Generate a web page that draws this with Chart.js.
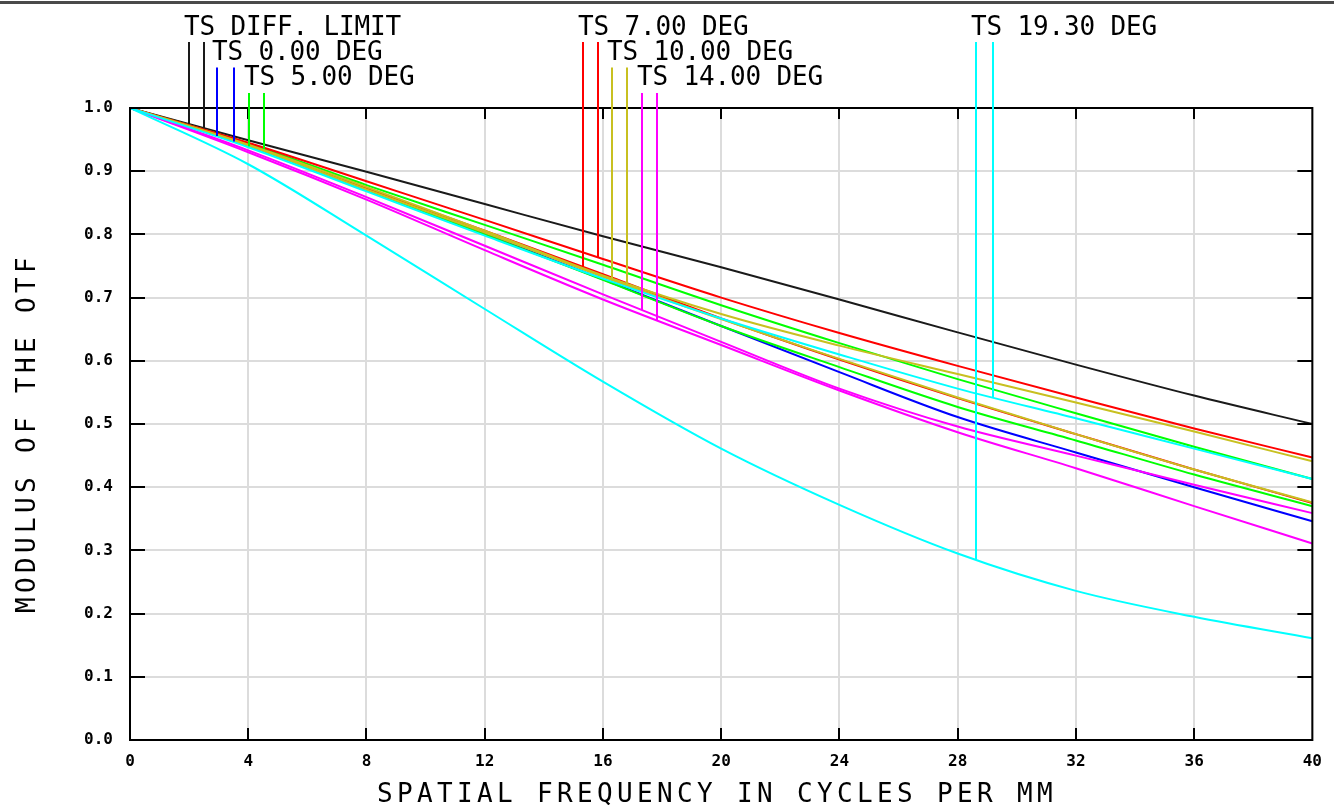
<!DOCTYPE html>
<html>
<head>
<meta charset="utf-8">
<script src="https://cdn.jsdelivr.net/npm/chart.js@4.4.1/dist/chart.umd.min.js"></script>
<style>
  html, body { margin: 0; padding: 0; background: #fff; }
</style>
</head>
<body>
<canvas id="mtfChart" width="1334" height="805"></canvas>
<script>
// spatial frequency samples (cycles per mm)
const freq = [0, 4, 8, 12, 16, 20, 24, 28, 32, 36, 40];

// modulus of the OTF
const diffLimit = [1.000, 0.949, 0.899, 0.848, 0.797, 0.748, 0.697, 0.645, 0.594, 0.545, 0.500];
const deg0      = [1.000, 0.940, 0.872, 0.801, 0.729, 0.655, 0.582, 0.511, 0.455, 0.400, 0.346];
const deg5T     = [1.000, 0.940, 0.870, 0.800, 0.728, 0.655, 0.590, 0.527, 0.474, 0.420, 0.370];
const deg5S     = [1.000, 0.944, 0.878, 0.815, 0.752, 0.688, 0.628, 0.571, 0.517, 0.464, 0.413];
const deg7T     = [1.000, 0.942, 0.873, 0.806, 0.737, 0.667, 0.602, 0.541, 0.484, 0.428, 0.375];
const deg7S     = [1.000, 0.945, 0.884, 0.823, 0.761, 0.700, 0.644, 0.592, 0.542, 0.493, 0.447];
const deg10T    = [1.000, 0.941, 0.871, 0.803, 0.733, 0.666, 0.603, 0.542, 0.484, 0.428, 0.376];
const deg10S    = [1.000, 0.942, 0.875, 0.806, 0.735, 0.674, 0.624, 0.579, 0.534, 0.488, 0.441];
const deg14T    = [1.000, 0.933, 0.859, 0.782, 0.705, 0.630, 0.556, 0.496, 0.450, 0.404, 0.359];
const deg14S    = [1.000, 0.930, 0.855, 0.775, 0.697, 0.625, 0.553, 0.487, 0.430, 0.370, 0.311];
const deg19T    = [1.000, 0.911, 0.798, 0.682, 0.567, 0.461, 0.372, 0.295, 0.236, 0.195, 0.161];
const deg19S    = [1.000, 0.938, 0.868, 0.798, 0.730, 0.667, 0.610, 0.556, 0.509, 0.461, 0.413];

const fieldLabels = ['TS DIFF. LIMIT', 'TS 0.00 DEG', 'TS 5.00 DEG', 'TS 7.00 DEG',
                     'TS 10.00 DEG', 'TS 14.00 DEG', 'TS 19.30 DEG'];
// frequency where the T and S leader lines of each label meet their curve
const markerT = [2.00, 2.96, 4.03, 15.33, 16.32, 17.32, 28.62];
const markerS = [2.52, 3.53, 4.53, 15.83, 16.82, 17.82, 29.18];

const xTitle = 'SPATIAL FREQUENCY IN CYCLES PER MM';
const yTitle = 'MODULUS OF THE OTF';

const fieldColors = ['#1a1a1a', '#0000ff', '#00ff00', '#ff0000', '#c8c020', '#ff00ff', '#00ffff'];
const curvesT = [diffLimit, deg0, deg5T, deg7T, deg10T, deg14T, deg19T];
const curvesS = [diffLimit, deg0, deg5S, deg7S, deg10S, deg14S, deg19S];

function toPoints(vals) {
    return vals.map((v, i) => ({ x: freq[i], y: v }));
}

// value of a curve at f, used only to end the leader lines on the curve
function valueAt(vals, f) {
    for (let i = 1; i < freq.length; i++) {
        if (f <= freq[i]) {
            const t = (f - freq[i - 1]) / (freq[i] - freq[i - 1]);
            return vals[i - 1] + t * (vals[i] - vals[i - 1]);
        }
    }
    return vals[vals.length - 1];
}

const datasets = [];
fieldLabels.forEach((lab, i) => {
    datasets.push({ label: lab + ' T', data: toPoints(curvesT[i]), borderColor: fieldColors[i] });
    if (curvesS[i] !== curvesT[i]) {
        datasets.push({ label: lab + ' S', data: toPoints(curvesS[i]), borderColor: fieldColors[i] });
    }
});
// later fields on top, like the original plot
datasets.forEach((d, i) => { d.order = -i; });

function spacedText(ctx, str, x, y, advance) {
    for (let i = 0; i < str.length; i++) ctx.fillText(str[i], x + i * advance, y);
}

const decorPlugin = {
    id: 'decor',
    beforeDraw(chart) {
        const ctx = chart.ctx;
        ctx.save();
        ctx.fillStyle = '#fff';
        ctx.fillRect(0, 0, chart.width, chart.height);
        ctx.fillStyle = '#4a4a4a';
        ctx.fillRect(0, 1, chart.width, 3);
        ctx.restore();
    },
    afterDatasetsDraw(chart) {
        const { ctx, chartArea: a, scales: { x, y } } = chart;
        ctx.save();
        ctx.strokeStyle = '#000';
        ctx.lineWidth = 2;
        ctx.beginPath();
        x.ticks.forEach(t => {
            if (t.value <= x.min || t.value >= x.max) return;
            const px = Math.round(x.getPixelForValue(t.value));
            ctx.moveTo(px, a.top); ctx.lineTo(px, a.top + 11);
            ctx.moveTo(px, a.bottom); ctx.lineTo(px, a.bottom - 12);
        });
        y.ticks.forEach(t => {
            if (t.value <= y.min || t.value >= y.max) return;
            const py = Math.round(y.getPixelForValue(t.value));
            ctx.moveTo(a.left, py); ctx.lineTo(a.left + 15, py);
            ctx.moveTo(a.right, py); ctx.lineTo(a.right - 15, py);
        });
        ctx.stroke();
        ctx.strokeRect(a.left, a.top, a.right - a.left, a.bottom - a.top);

        // field labels with their leader lines
        ctx.font = '26px "DejaVu Sans Mono"';
        ctx.textBaseline = 'alphabetic';
        ctx.textAlign = 'left';
        fieldLabels.forEach((lab, i) => {
            const row = i % 3;
            const base = a.top - 73 + row * 25;
            const lineTop = a.top - 66 + row * 25.5;
            const xT = Math.round(x.getPixelForValue(markerT[i]));
            const xS = Math.round(x.getPixelForValue(markerS[i]));
            ctx.fillStyle = '#000';
            spacedText(ctx, lab, xT - 5, base, 15.5);
            ctx.strokeStyle = fieldColors[i];
            ctx.lineWidth = 2;
            ctx.beginPath();
            ctx.moveTo(xT, lineTop); ctx.lineTo(xT, y.getPixelForValue(valueAt(curvesT[i], markerT[i])));
            ctx.moveTo(xS, lineTop); ctx.lineTo(xS, y.getPixelForValue(valueAt(curvesS[i], markerS[i])));
            ctx.stroke();
        });

        // axis titles
        ctx.fillStyle = '#000';
        spacedText(ctx, xTitle, a.left + 247, 802, 20);
        ctx.translate(35, 613);
        ctx.rotate(-Math.PI / 2);
        spacedText(ctx, yTitle, 0, 0, 20);
        ctx.restore();
    }
};

const tickFont = { family: 'DejaVu Sans Mono', size: 16, weight: 'bold' };

new Chart(document.getElementById('mtfChart'), {
    type: 'line',
    data: { datasets: datasets },
    options: {
        responsive: false,
        animation: false,
        layout: { padding: { top: 108, right: 12, left: 0, bottom: 0 } },
        plugins: { legend: { display: false }, tooltip: { enabled: false } },
        elements: {
            point: { radius: 0 },
            line: { borderWidth: 2, cubicInterpolationMode: 'monotone', fill: false }
        },
        scales: {
            x: {
                type: 'linear', min: 0, max: 40,
                afterFit: s => { s.height = 65; },
                ticks: { stepSize: 4, padding: 12, color: '#000', font: tickFont, maxRotation: 0 },
                grid: { color: '#dcdcdc', lineWidth: 2, drawTicks: false },
                border: { display: false }
            },
            y: {
                min: 0, max: 1,
                afterFit: s => { s.width = 130; },
                ticks: { stepSize: 0.1, padding: 17, color: '#000', font: tickFont,
                         callback: v => v.toFixed(1) },
                grid: { color: '#dcdcdc', lineWidth: 2, drawTicks: false },
                border: { display: false }
            }
        }
    },
    plugins: [decorPlugin]
});
</script>
</body>
</html>
